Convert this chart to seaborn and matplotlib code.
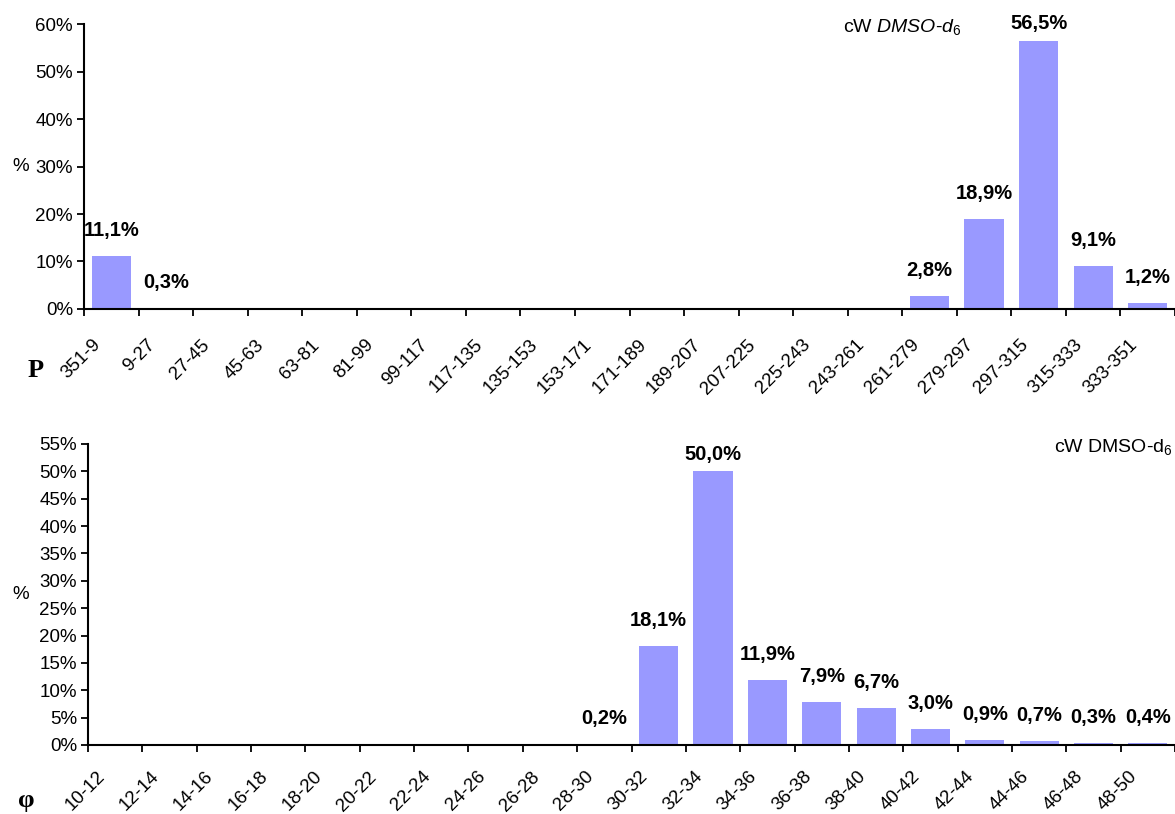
import numpy as np
import matplotlib
matplotlib.use("Agg")
import matplotlib.pyplot as plt
import matplotlib.transforms as mtransforms
from matplotlib.ticker import FixedLocator, PercentFormatter
import seaborn as sns

# data (percent)
p_labels = ["351-9", "9-27", "27-45", "45-63", "63-81", "81-99", "99-117",
            "117-135", "135-153", "153-171", "171-189", "189-207", "207-225",
            "225-243", "243-261", "261-279", "279-297", "297-315", "315-333",
            "333-351"]
p_values = [11.1, 0.3, 0, 0, 0, 0, 0, 0, 0, 0, 0, 0, 0, 0, 0,
            2.8, 18.9, 56.5, 9.1, 1.2]

phi_labels = ["10-12", "12-14", "14-16", "16-18", "18-20", "20-22", "22-24",
              "24-26", "26-28", "28-30", "30-32", "32-34", "34-36", "36-38",
              "38-40", "40-42", "42-44", "44-46", "46-48", "48-50"]
phi_values = [0, 0, 0, 0, 0, 0, 0, 0, 0, 0.2, 18.1, 50.0, 11.9, 7.9, 6.7,
              3.0, 0.9, 0.7, 0.3, 0.4]

sns.set_style("white")
plt.rcParams["font.family"] = ["Liberation Sans", "DejaVu Sans"]
plt.rcParams["mathtext.fontset"] = "custom"
plt.rcParams["mathtext.rm"] = "Liberation Sans"
plt.rcParams["mathtext.it"] = "Liberation Sans:italic"
for key in ["text.color", "axes.labelcolor", "xtick.color", "ytick.color"]:
    plt.rcParams[key] = "black"

bar_color = "#9999FF"

fig = plt.figure(figsize=(11.75, 8.14), dpi=100)
ax1 = fig.add_axes([0.0715, 0.6204, 0.9285, 0.3501])
ax2 = fig.add_axes([0.0749, 0.0848, 0.9251, 0.3698])


def draw(ax, labels, values, ymax, ystep, xpad):
    sns.barplot(x=labels, y=values, color=bar_color, saturation=1,
                width=0.72, linewidth=0, ax=ax)
    ax.set_xlim(-0.5, len(labels) - 0.5)
    ax.set_ylim(0, ymax)
    ax.set_yticks(np.arange(0, ymax + 0.1, ystep))
    ax.yaxis.set_major_formatter(PercentFormatter(xmax=100, decimals=0))
    ax.tick_params(axis="y", direction="out", length=5, width=1.3,
                   labelsize=13.5, color="black", left=True, pad=3)
    # ticks on the category borders, labels in the middle
    ax.xaxis.set_minor_locator(FixedLocator(np.arange(-0.5, len(labels), 1)))
    ax.tick_params(axis="x", which="minor", direction="out", length=5,
                   width=1.3, color="black", bottom=True)
    ax.tick_params(axis="x", which="major", length=0, pad=xpad, labelsize=13.5)
    shift = mtransforms.ScaledTranslation(-13 / 100, 0, fig.dpi_scale_trans)
    for lab in ax.get_xticklabels():
        lab.set_rotation(45)
        lab.set_ha("right")
        lab.set_va("center")
        lab.set_rotation_mode("anchor")
        lab.set_transform(lab.get_transform() + shift)
    for side in ["top", "right"]:
        ax.spines[side].set_visible(False)
    for side in ["left", "bottom"]:
        ax.spines[side].set_color("black")
        ax.spines[side].set_linewidth(1.5)
    ax.set_xlabel("")
    ax.set_ylabel("%", rotation=0, fontsize=13.5, ha="center", va="center")
    for i, v in enumerate(values):
        if v <= 0:
            continue
        pad = 5.5 if v > 0.9 * ymax else 11.5
        ax.annotate(f"{v:.1f}%".replace(".", ","), (i, v), xytext=(0, pad),
                    textcoords="offset points", ha="center", va="bottom",
                    fontsize=14.5, fontweight="bold", annotation_clip=False)


draw(ax1, p_labels, p_values, 60, 10, 24)
draw(ax2, phi_labels, phi_values, 55, 5, 21)

ax1.yaxis.set_label_coords(-0.058, 0.5)
ax2.yaxis.set_label_coords(-0.062, 0.5)

fig.text(0.7174, 0.967, r"cW $\it{DMSO}$-$\it{d}_{\it{6}}$", fontsize=14,
         ha="left", va="center")
fig.text(0.998, 0.451, r"cW DMSO-d$_{6}$", fontsize=14,
         ha="right", va="center")

fig.text(0.03, 0.545, "P", fontsize=19, fontweight="bold", ha="center",
         va="center", family=["Liberation Serif", "DejaVu Serif"])
fig.text(0.022, 0.016, "φ", fontsize=19, fontweight="bold", ha="center",
         va="center", family=["Liberation Serif", "DejaVu Serif"])

fig.savefig("out.png", dpi=100)
